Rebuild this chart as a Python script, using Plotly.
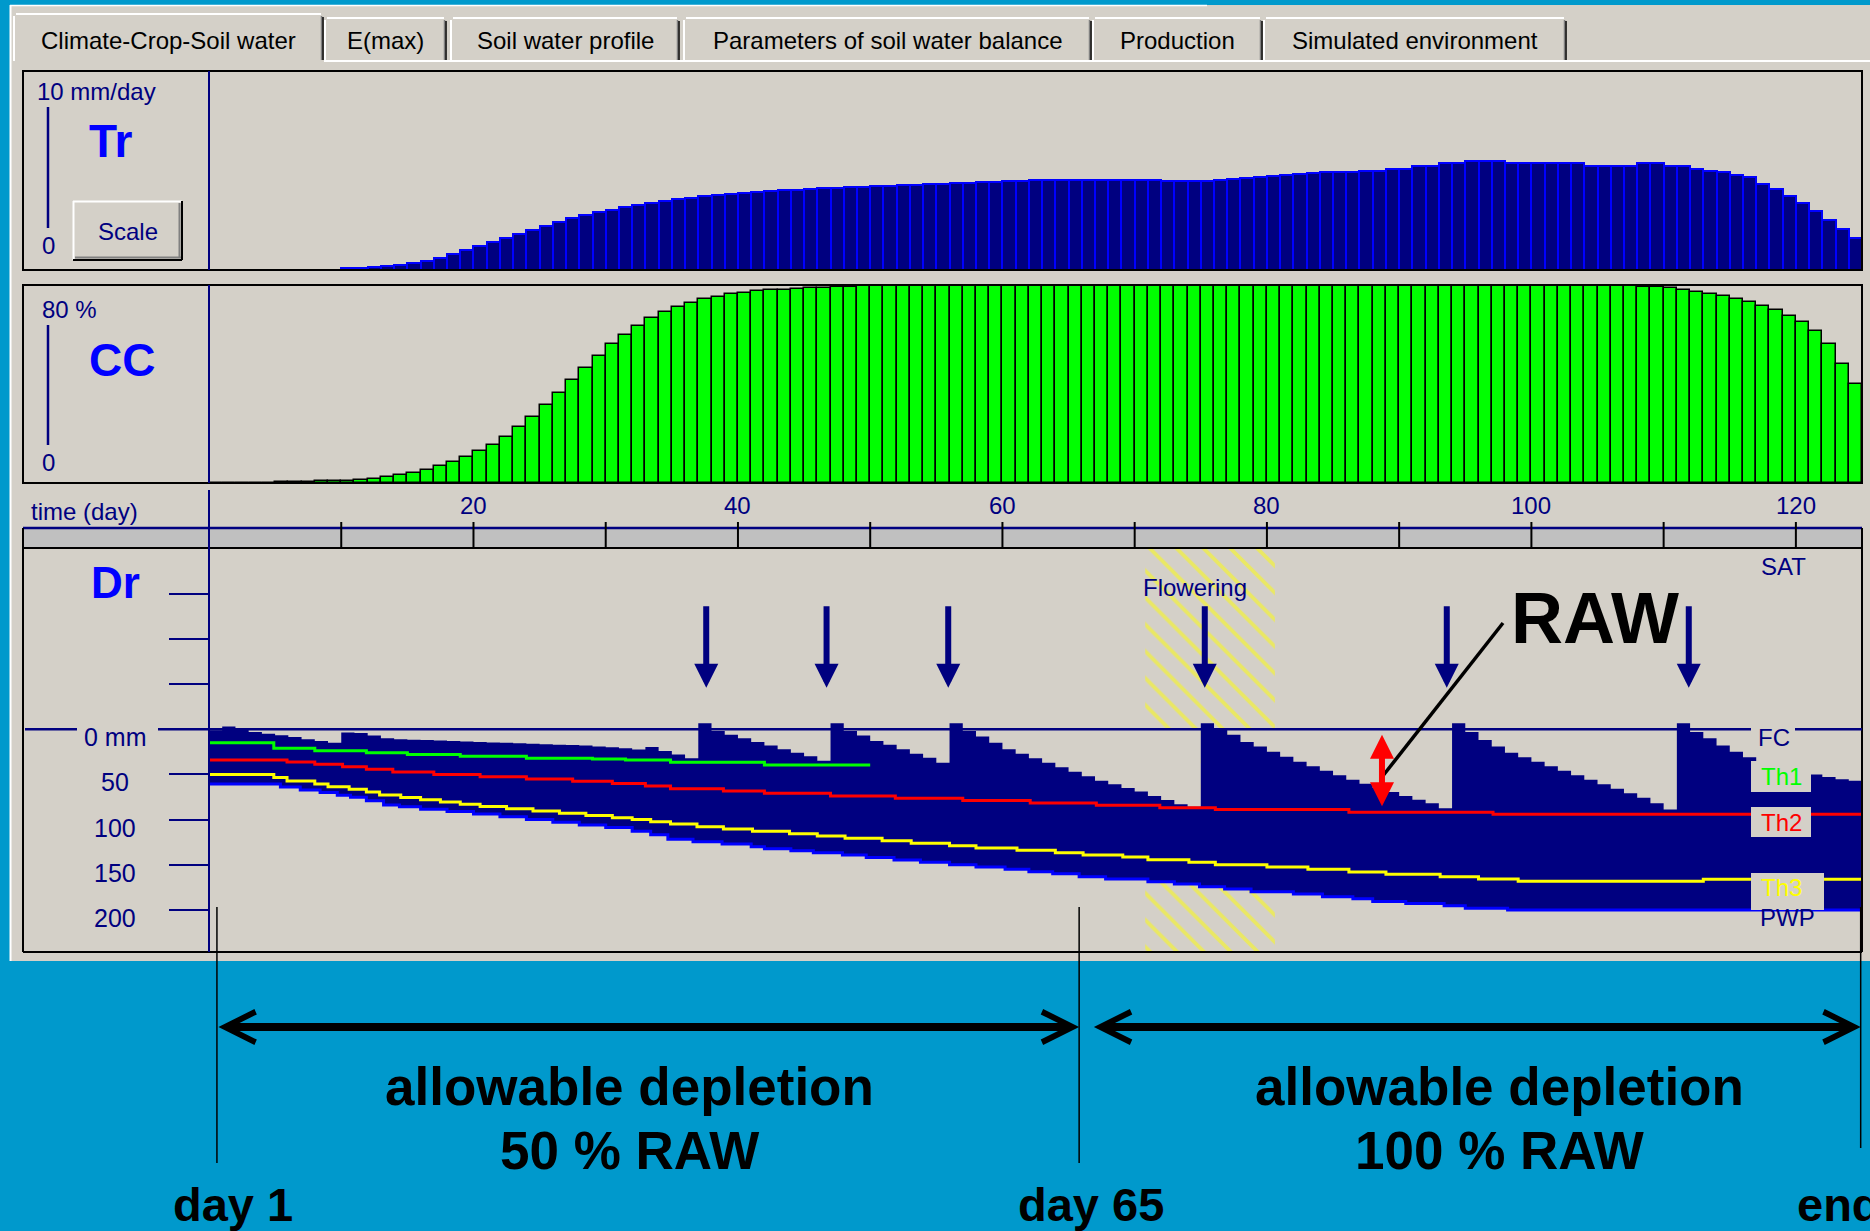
import plotly.graph_objects as go

W, H = 1870, 1231

# ------------------------------------------------------------------ data
days = list(range(1, 126))  # simulation day number, one bar per day

# crop transpiration (mm/day)
tr_mm_day = [
    0, 0, 0, 0, 0, 0, 0, 0, 0, 0,
    0.1, 0.1, 0.15, 0.2, 0.25, 0.35, 0.45, 0.6, 0.8, 1.0,
    1.2, 1.4, 1.6, 1.8, 2.0, 2.2, 2.4, 2.6, 2.75, 2.9,
    3.0, 3.15, 3.25, 3.35, 3.45, 3.55, 3.6, 3.7, 3.75, 3.8,
    3.85, 3.9, 3.95, 4.0, 4.0, 4.05, 4.1, 4.1, 4.15, 4.15,
    4.2, 4.2, 4.25, 4.25, 4.3, 4.3, 4.35, 4.35, 4.4, 4.4,
    4.45, 4.45, 4.5, 4.5, 4.5, 4.5, 4.5, 4.5, 4.5, 4.5,
    4.5, 4.5, 4.45, 4.45, 4.45, 4.45, 4.5, 4.55, 4.6, 4.65,
    4.7, 4.75, 4.8, 4.85, 4.9, 4.9, 4.95, 5.0, 5.0, 5.1,
    5.1, 5.25, 5.25, 5.37, 5.37, 5.5, 5.5, 5.5, 5.37, 5.37,
    5.37, 5.37, 5.37, 5.37, 5.25, 5.25, 5.25, 5.25, 5.37, 5.37,
    5.25, 5.25, 5.1, 5.0, 4.9, 4.77, 4.66, 4.3, 4.05, 3.7,
    3.35, 2.98, 2.5, 2.05, 1.6,
]

# green canopy cover (%)
cc_pct = [
    0, 0, 0, 0, 0, 0.5, 0.5, 0.6, 0.7, 0.8,
    1.0, 1.3, 1.8, 2.4, 3.2, 4.2, 5.3, 6.8, 8.5, 10.5,
    12.8, 15.5, 18.6, 22.5, 26.8, 31.5, 36.5, 41.5, 46.5, 51.5,
    56, 60, 63.5, 66.5, 69, 71, 72.8, 74.2, 75.3, 76.2,
    76.9, 77.4, 77.8, 78.1, 78.4, 78.7, 78.9, 79.1, 79.3, 79.4,
    79.5, 79.5, 79.5, 79.5, 79.5, 79.5, 79.5, 79.5, 79.5, 79.5,
    79.5, 79.5, 79.5, 79.5, 79.5, 79.5, 79.5, 79.5, 79.5, 79.5,
    79.5, 79.5, 79.5, 79.5, 79.5, 79.5, 79.5, 79.5, 79.5, 79.5,
    79.5, 79.5, 79.5, 79.5, 79.5, 79.5, 79.5, 79.5, 79.5, 79.5,
    79.5, 79.5, 79.5, 79.5, 79.5, 79.5, 79.5, 79.5, 79.5, 79.5,
    79.5, 79.5, 79.5, 79.5, 79.5, 79.5, 79.5, 79.5, 79.3, 79.0,
    78.6, 78.0, 77.3, 76.5, 75.5, 74.3, 73, 71.5, 69.7, 67.5,
    65, 61.5, 56, 48, 40,
]

# root-zone depletion below field capacity (mm), end of each day
dr_mm = [
    1, -3, -1, 3, 5, 6.5, 8.5, 11, 13, 15,
    3.5, 4, 7, 10, 11, 11.5, 12, 12.5, 13, 13.5,
    14, 14.5, 15, 15.5, 16, 16.5, 17, 17.5, 18, 19,
    20, 21, 22.5, 19.5, 24, 28, 32, -6.6, 2, 6,
    10, 14, 18, 22, 26, 30, 35, -6.6, 2, 7,
    13, 17, 22, 27, 31.5, 37, -6.6, 2, 8, 15,
    22, 27, 32, 37, 42, 47, 52, 57, 61, 65,
    69, 74, 78.5, 83, 86, -6.6, 0, 6, 14, 19,
    25, 30.5, 36, 41, 46, 51, 56, 60.5, 65, 69.5,
    74, 78, 82, 87.5, -6.6, 3, 12, 19, 26, 31,
    36, 41, 46, 51, 56, 61, 66, 71, 76, 82,
    89, -6.6, 3, 10, 18, 25, 31, 36, 40, 43.5,
    47, 50, 53, 55.5, 57,
]

# thresholds (step series: day where a level starts, level in mm)
th1_from = [0, 4.9, 8, 11.9, 15, 19, 24, 29, 31.5, 34.9, 42]
th1_mm = [14.8, 21, 23.7, 26, 28, 30, 32, 33, 34, 36.6, 39.6]
th1_end = 50

th2_from = [0, 5.9, 8, 10.1, 11.9, 13.9, 17, 20.5, 24, 27.5, 30.5, 33, 34.9,
            38.9, 42, 47, 51.9, 57, 62.1, 67.1, 71.9, 76.1, 86.2, 97.1]
th2_mm = [34, 36.3, 38.8, 41.4, 44.4, 47.3, 50, 52.5, 55, 57.5, 60.2, 62.9, 65.8,
          68.4, 71, 73.9, 76.5, 78.8, 81.7, 84.3, 86.9, 89, 92, 94.3]

th3_from = [0, 4.9, 5.9, 8, 9, 10.6, 11.9, 12.9, 14.5, 16, 17.5, 19, 20.5, 22.5,
            24.5, 26.5, 28.5, 30.5, 32, 33.4, 34.9, 36.9, 38.9, 41.1, 43.9, 46,
            48.1, 50.9, 53.1, 56, 58, 61.1, 64, 66.1, 69.1, 71, 74.1, 76.1, 80,
            83.1, 86.2, 89, 93.1, 96, 99, 113]
th3_mm = [50, 53.3, 57.3, 60.6, 63.6, 66.5, 69.5, 72.8, 75.5, 78, 80.5, 83, 85.5, 88,
          90.5, 93, 95.5, 98, 100, 102.4, 105, 108, 110.5, 113, 115.7, 118.3,
          120.9, 123.5, 126.4, 129, 131.6, 134.2, 136.8, 139.4, 141.6, 144.5,
          147.5, 150.1, 152.7, 155.2, 158.2, 160.8, 163.4, 166, 168.5, 166.3]

# total available water in the root zone (PWP level, mm)
pwp_from = [0, 5.4, 6.9, 8.4, 9.7, 10.7, 11.9, 13.2, 14.4, 16, 18, 20, 22, 24, 26,
            28, 30, 32, 33.4, 34.7, 36.6, 38.8, 41, 42, 44, 45.7, 47.9, 49.7,
            51.8, 53.8, 56, 58, 60.2, 62, 63.8, 65.8, 67.8, 71, 73, 74.9, 76.8,
            78.8, 82, 84.2, 86.5, 88, 90.5, 93.4, 95, 98.2]
pwp_mm = [60.6, 64, 67.3, 70.2, 73.2, 75.4, 79.1, 83.9, 86, 88.5, 91, 94, 97, 100,
          103, 106, 109, 113, 117, 122, 124.6, 127.2, 130.1, 132.4, 134.6, 136.8,
          139.4, 142, 144.9, 147.5, 150.1, 152.7, 155.2, 157.9, 160.1, 163.4, 166,
          168.9, 171.5, 174.5, 177, 180, 182.6, 185.6, 188, 191, 193, 195.5,
          198.5, 200.3]

season_end = 125
irrigation_days = [37.6, 46.7, 55.9, 75.3, 93.6, 111.9]
flowering_days = [70.8, 80.6]
raw_day = 88.7
phase_edges = [0.6, 65.8, 124.9]
phase_names = ["day 1", "day 65", "end"]
phase_notes = [("allowable depletion", "50 % RAW"), ("allowable depletion", "100 % RAW")]

time_labels = [20, 40, 60, 80, 100, 120]
time_marks = [10, 20, 30, 40, 50, 60, 70, 80, 90, 100, 110, 120]
dr_marks = [-150, -100, -50, 50, 100, 150, 200]
dr_labels = [(0, "0 mm"), (50, "50"), (100, "100"), (150, "150"), (200, "200")]
tab_names = ["Climate-Crop-Soil water", "E(max)", "Soil water profile",
             "Parameters of soil water balance", "Production", "Simulated environment"]

# ------------------------------------------------------------------ styling
NAVY = "#000080"
BLUE = "#0000FF"
FACE = "#D4D0C8"
BAND = "#C0C0C0"
SHADOW = "#808080"
BACK = "#0099CC"
FONT = "Liberation Sans, Arial, sans-serif"


def px(x):
    return x / W


def py(y):
    return 1 - y / H


def steps(starts, values, end):
    return starts + [end], values + [values[-1]]


def level_at(starts, values, day):
    v = values[0]
    for s, val in zip(starts, values):
        if s <= day:
            v = val
    return v


fig = go.Figure()

bar_x = [d - 0.5 for d in days]
fig.add_trace(go.Bar(x=bar_x, y=tr_mm_day, width=1, xaxis="x", yaxis="y",
                     marker=dict(color=NAVY, line=dict(color=BLUE, width=2)),
                     hoverinfo="skip"))
fig.add_trace(go.Bar(x=bar_x, y=cc_pct, width=1, xaxis="x2", yaxis="y2",
                     marker=dict(color="#00FF00", line=dict(color="#000000", width=1.5)),
                     hoverinfo="skip"))

DR_TOP, DR_BOT = -201, 246.9
f0, f1 = flowering_days
fig.add_trace(go.Scatter(x=[f0, f1, f1, f0, f0], y=[DR_TOP, DR_TOP, DR_BOT, DR_BOT, DR_TOP],
                         xaxis="x3", yaxis="y3", mode="lines", line=dict(width=0),
                         fill="toself", fillcolor="rgba(0,0,0,0)",
                         fillpattern=dict(shape="\\", fgcolor="#FFFF00", bgcolor="rgba(0,0,0,0)",
                                          size=19, solidity=0.2),
                         hoverinfo="skip"))

step_x = list(range(0, season_end + 1))
fig.add_trace(go.Scatter(x=step_x, y=dr_mm + [dr_mm[-1]], xaxis="x3", yaxis="y3",
                         mode="lines", line=dict(width=0, color=NAVY, shape="hv"),
                         fill="tozeroy", fillcolor=FACE, hoverinfo="skip"))
sx, sy = steps(pwp_from, pwp_mm, season_end)
fig.add_trace(go.Scatter(x=sx, y=sy, xaxis="x3", yaxis="y3", mode="lines",
                         line=dict(width=3, color=BLUE, shape="hv"),
                         fill="tonexty", fillcolor=NAVY, hoverinfo="skip"))
for starts, vals, end, col in [(th3_from, th3_mm, season_end, "#FFFF00"),
                               (th2_from, th2_mm, season_end, "#FF0000"),
                               (th1_from, th1_mm, th1_end, "#00FF00")]:
    sx, sy = steps(starts, vals, end)
    fig.add_trace(go.Scatter(x=sx, y=sy, xaxis="x3", yaxis="y3", mode="lines",
                             line=dict(width=3, color=col, shape="hv"), hoverinfo="skip"))

# ------------------------------------------------------------------ chrome
shapes = []
annotations = []


def rect(x0, y0, x1, y1, fill="rgba(0,0,0,0)", line="rgba(0,0,0,0)", lw=0, layer="below"):
    shapes.append(dict(type="rect", xref="paper", yref="paper", x0=px(x0), x1=px(x1),
                       y0=py(y0), y1=py(y1), fillcolor=fill,
                       line=dict(color=line, width=lw), layer=layer))


def seg(x0, y0, x1, y1, color, lw, layer="below"):
    shapes.append(dict(type="line", xref="paper", yref="paper", x0=px(x0), x1=px(x1),
                       y0=py(y0), y1=py(y1), line=dict(color=color, width=lw), layer=layer))


def label(x, y, text, size=24, color=NAVY, xanchor="center", yanchor="middle", **kw):
    annotations.append(dict(xref="paper", yref="paper", x=px(x), y=py(y), text=text,
                            showarrow=False, xanchor=xanchor, yanchor=yanchor,
                            font=dict(size=size, color=color, family=FONT), **kw))


# window
rect(10, 5, 1870, 961, fill=FACE)
seg(10.5, 5, 10.5, 961, "white", 2)
seg(10, 5.5, 1207, 5.5, "white", 1.5)

# tab strip
tab_spans = [(13, 324), (324, 447), (450, 680), (683, 1092), (1092, 1263), (1263, 1567)]
seg(324, 61, 1870, 61, "white", 2)
for i, (name, (x0, x1)) in enumerate(zip(tab_names, tab_spans)):
    top = 13 if i == 0 else 17
    seg(x0 + 1, 61, x0 + 1, top + 3, "white", 2)
    seg(x0 + 3, top + 1, x1 - 3, top + 1, "white", 2)
    seg(x1 - 2.5, top + 3, x1 - 2.5, 60, SHADOW, 1.5)
    seg(x1 - 1, top + 4, x1 - 1, 60, "black", 1.5)
    label((x0 + x1) / 2, 41, name, 24, "black")

# panel frames
rect(23, 71, 1862, 270, line="black", lw=2, layer="above")
rect(23, 285, 1862, 483, line="black", lw=2, layer="above")
rect(23, 528, 1862, 548, fill=BAND)
seg(23, 528, 1862, 528, NAVY, 2.5, "above")
seg(23, 548, 1862, 548, "black", 2, "above")
seg(23, 528, 23, 952, "black", 2, "above")
seg(23, 952, 1862, 952, "black", 2, "above")
seg(1862, 528, 1862, 952, "black", 2, "above")
for y0, y1 in [(71, 270), (285, 483), (490, 952)]:
    seg(209, y0, 209, y1, NAVY, 2, "above")

# time axis: marks across the band, labels above it
for t in time_marks:
    shapes.append(dict(type="line", xref="x3", yref="paper", x0=t, x1=t,
                       y0=py(522), y1=py(548), line=dict(color="black", width=2),
                       layer="above"))
for t in time_labels:
    annotations.append(dict(xref="x3", yref="paper", x=t, y=py(506), text=str(t),
                            showarrow=False, xanchor="center", yanchor="middle",
                            font=dict(size=24, color=NAVY, family=FONT)))

# left scales
seg(48, 107, 48, 228, NAVY, 2.5)
seg(48, 325, 48, 445, NAVY, 2.5)
label(35, 92, "10 mm/day", xanchor="left")
label(48.5, 245, "0")
label(111, 141, "<b>Tr</b>", 46, BLUE)
label(40, 309, "80 %", xanchor="left")
label(48.5, 462, "0")
label(122, 360, "<b>CC</b>", 46, BLUE)
label(84.5, 511, "time (day)")
label(115, 582, "<b>Dr</b>", 44, BLUE)

# Scale button
rect(73, 201, 182, 260, fill=FACE)
seg(73, 201.5, 182, 201.5, "white", 2)
seg(73.5, 201, 73.5, 260, "white", 2)
seg(75, 257.5, 181, 257.5, SHADOW, 2)
seg(179.5, 203, 179.5, 258, SHADOW, 2)
seg(73, 260, 182, 260, "black", 2)
seg(182, 201, 182, 260, "black", 2)
label(128, 231, "Scale")

# field capacity line (0 mm)
for x0, x1 in [(25, 77), (158, 1751), (1795, 1862)]:
    shapes.append(dict(type="line", xref="paper", yref="y3", x0=px(x0), x1=px(x1), y0=0, y1=0,
                       line=dict(color=NAVY, width=2.5), layer="above"))

# Dr tick labels
for v, t in dr_labels:
    annotations.append(dict(xref="paper", yref="y3", x=px(115), y=v, yshift=-8, text=t,
                            showarrow=False, xanchor="center", yanchor="middle",
                            font=dict(size=25, color=NAVY, family=FONT)))

# right-hand level labels
rect(1751, 761, 1811, 792, fill=FACE, layer="above")
rect(1751, 807, 1811, 837, fill=FACE, layer="above")
rect(1751, 873, 1824, 910, fill=FACE, layer="above")
label(1783, 566, "SAT")
label(1781, 777, "Th1", color="#00FF00")
for yv, t, col, xc in [(0, "FC", NAVY, 1774), (th2_mm[-1], "Th2", "#FF0000", 1781),
                       (th3_mm[-1], "Th3", "#FFFF00", 1781), (pwp_mm[-1], "PWP", NAVY, 1787)]:
    annotations.append(dict(xref="paper", yref="y3", x=px(xc), y=yv, yshift=-8, text=t,
                            showarrow=False, xanchor="center", yanchor="middle",
                            font=dict(size=24, color=col, family=FONT)))
label(1195, 587, "Flowering")

# irrigation events
for d in irrigation_days:
    annotations.append(dict(xref="x3", yref="y3", axref="x3", ayref="y3", x=d, y=-46,
                            ax=d, ay=-138, text="", showarrow=True, arrowhead=2,
                            arrowsize=0.8, arrowwidth=6, arrowcolor=NAVY))

# readily available water between FC and Th2
raw_depth = level_at(th2_from, th2_mm, raw_day)
annotations.append(dict(xref="x3", yref="y3", axref="x3", ayref="y3", x=raw_day, y=raw_depth,
                        ax=raw_day, ay=0, text="", showarrow=True, arrowside="end+start",
                        arrowhead=2, startarrowhead=2, arrowsize=0.8, startarrowsize=0.8,
                        arrowwidth=6, arrowcolor="#FF0000", standoff=6, startstandoff=4))
seg(1503, 623, 1382, 777, "black", 3.5, "above")
label(1595, 618, "<b>RAW</b>", 72, "black")

# management phases
for edge, bottom in zip(phase_edges, [1163, 1163, 1148]):
    shapes.append(dict(type="line", xref="x3", yref="paper", x0=edge, x1=edge,
                       y0=py(907), y1=py(bottom), line=dict(color="black", width=1.5),
                       layer="above"))
for a, b in [(phase_edges[0], phase_edges[1]), (phase_edges[1] + 1, phase_edges[2])]:
    annotations.append(dict(xref="x3", axref="x3", yref="paper", ayref="pixel",
                            x=b, ax=a, y=py(1027), ay=0, text="", showarrow=True,
                            arrowside="end+start", arrowhead=5, startarrowhead=5,
                            arrowsize=0.75, startarrowsize=0.75, arrowwidth=8,
                            arrowcolor="black"))
for (l1, l2), xc in zip(phase_notes, [629, 1499]):
    label(xc, 1086, f"<b>{l1}</b>", 53, "black")
    label(xc, 1150, f"<b>{l2}</b>", 53, "black")
label(233, 1204, f"<b>{phase_names[0]}</b>", 47, "black")
label(1091, 1204, f"<b>{phase_names[1]}</b>", 47, "black")
label(1795, 1204, f"<b>{phase_names[2]}</b>", 47, "black", xanchor="left")

# ------------------------------------------------------------------ axes
XD = [px(209), px(1862)]
XR = [0, season_end]
hidden_x = dict(domain=XD, range=XR, visible=False, fixedrange=True)

fig.update_layout(
    width=W, height=H, autosize=False, margin=dict(l=0, r=0, t=0, b=0),
    paper_bgcolor=BACK, plot_bgcolor="rgba(0,0,0,0)", showlegend=False,
    bargap=0, hovermode=False,
    xaxis=dict(hidden_x, anchor="y"),
    yaxis=dict(domain=[py(270), py(71)], range=[0, 10], visible=False, anchor="x"),
    xaxis2=dict(hidden_x, anchor="y2"),
    yaxis2=dict(domain=[py(483), py(285)], range=[0, 80], visible=False, anchor="x2"),
    xaxis3=dict(hidden_x, anchor="y3"),
    yaxis3=dict(domain=[py(952), py(548)], range=[DR_BOT, DR_TOP], anchor="x3",
                showline=False, showgrid=False, zeroline=False, ticks="outside",
                ticklen=39, tickwidth=2, tickcolor=NAVY, tickmode="array",
                tickvals=dr_marks, showticklabels=False),
    shapes=shapes,
    annotations=annotations,
)

fig.write_html("out.html")
